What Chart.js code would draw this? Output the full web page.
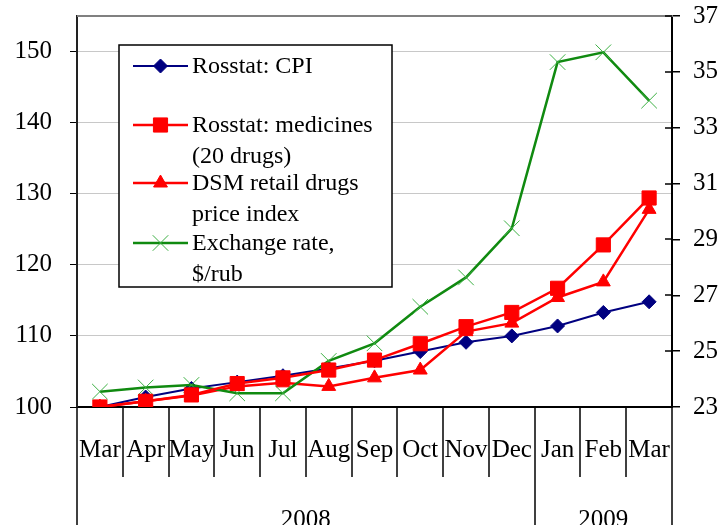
<!DOCTYPE html>
<html><head><meta charset="utf-8">
<script src="https://cdn.jsdelivr.net/npm/chart.js@4.4.1/dist/chart.umd.min.js"></script>
<style>html,body{margin:0;padding:0;background:#fff;}#wrap{width:721px;height:525px;position:relative;}</style>
</head><body><div id="wrap"><canvas id="c"></canvas></div>
<script>
const months = ['Mar','Apr','May','Jun','Jul','Aug','Sep','Oct','Nov','Dec','Jan','Feb','Mar'];
const years = ['2008','2009'];
const yearSpans = [10, 3];
const cpi = [100, 101.4, 102.6, 103.5, 104.4, 105.4, 106.5, 107.8, 109.1, 110.0, 111.4, 113.3, 114.8];
const medicines = [100, 100.8, 101.7, 103.3, 104.1, 105.2, 106.6, 108.9, 111.3, 113.3, 116.7, 122.8, 129.4];
const dsm = [100, 100.8, 101.6, 102.9, 103.4, 102.9, 104.1, 105.2, 110.6, 111.8, 115.4, 117.6, 127.8];
const exchange = [23.55, 23.70, 23.79, 23.49, 23.49, 24.65, 25.28, 26.59, 27.64, 29.4, 35.35, 35.7, 33.97];
const leftTicks = [100, 110, 120, 130, 140, 150];
const rightTicks = [23, 25, 27, 29, 31, 33, 35, 37];
const legendCpi = ['Rosstat: CPI'];
const legendMed = ['Rosstat: medicines', '(20 drugs)'];
const legendDsm = ['DSM retail drugs', 'price index'];
const legendFx = ['Exchange rate,', '$/rub'];

const FONT = "'Liberation Serif', 'Times New Roman', serif";

function noPad(s) { s.paddingTop = 0; s.paddingBottom = 0; s.paddingLeft = 0; s.paddingRight = 0; }

const decor = {
  id: 'decor',
  afterDraw(chart) {
    const ctx = chart.ctx, a = chart.chartArea, x = chart.scales.x, yR = chart.scales.yR;
    const n = months.length;
    const w = (a.right - a.left) / n;
    ctx.save();
    ctx.strokeStyle = '#808080'; ctx.lineWidth = 2;
    ctx.beginPath(); ctx.moveTo(a.left, a.top); ctx.lineTo(a.right + 1, a.top); ctx.stroke();
    const longIdx = [0]; let acc = 0; yearSpans.forEach(s => { acc += s; longIdx.push(acc); });
    ctx.strokeStyle = '#000'; ctx.lineWidth = 1.5;
    for (let i = 0; i <= n; i++) {
      const px = Math.round(i < n ? x.getPixelForValue(i) - w / 2 : x.getPixelForValue(n - 1) + w / 2);
      const yEnd = longIdx.includes(i) ? chart.height : a.bottom + 70;
      ctx.beginPath(); ctx.moveTo(px, a.bottom); ctx.lineTo(px, yEnd); ctx.stroke();
    }
    ctx.fillStyle = '#000'; ctx.font = '25px ' + FONT; ctx.textAlign = 'center'; ctx.textBaseline = 'alphabetic';
    let start = 0;
    years.forEach((yr, k) => {
      const x0 = x.getPixelForValue(start) - w / 2;
      const x1 = x.getPixelForValue(start + yearSpans[k] - 1) + w / 2;
      ctx.fillText(yr, (x0 + x1) / 2, a.bottom + 120);
      start += yearSpans[k];
    });
    ctx.strokeStyle = '#000'; ctx.lineWidth = 1.5;
    rightTicks.forEach(v => {
      const py = Math.round(yR.getPixelForValue(v));
      ctx.beginPath(); ctx.moveTo(a.right - 7, py); ctx.lineTo(a.right, py); ctx.stroke();
    });
    const bx = a.left + 42, by = a.top + 29, bw = 273, bh = 242;
    ctx.fillStyle = '#fff'; ctx.fillRect(bx, by, bw, bh);
    ctx.strokeStyle = '#000'; ctx.lineWidth = 1.5; ctx.strokeRect(bx, by, bw, bh);
    const ds = chart.data.datasets;
    const entries = [
      { d: ds[3], lines: legendCpi, y: by + 21 },
      { d: ds[0], lines: legendMed, y: by + 80 },
      { d: ds[2], lines: legendDsm, y: by + 138 },
      { d: ds[1], lines: legendFx, y: by + 198 }
    ];
    ctx.font = '24px ' + FONT; ctx.textAlign = 'left'; ctx.textBaseline = 'middle';
    entries.forEach(e => {
      const lx0 = bx + 14, lx1 = bx + 69, mx = (lx0 + lx1) / 2;
      ctx.strokeStyle = e.d.borderColor; ctx.lineWidth = e.d.borderWidth;
      ctx.beginPath(); ctx.moveTo(lx0, e.y); ctx.lineTo(lx1, e.y); ctx.stroke();
      ctx.save();
      ctx.fillStyle = e.d.pointBackgroundColor; ctx.strokeStyle = e.d.pointBorderColor; ctx.lineWidth = e.d.pointBorderWidth;
      Chart.helpers.drawPoint(ctx, { pointStyle: e.d.pointStyle, radius: e.d.pointRadius, rotation: 0, borderWidth: e.d.pointBorderWidth }, mx, e.y);
      ctx.restore();
      ctx.fillStyle = '#000';
      e.lines.forEach((t, i) => ctx.fillText(t, bx + 73, e.y + 1 + i * 31));
    });
    ctx.restore();
  }
};

new Chart(document.getElementById('c'), {
  type: 'line',
  data: {
    labels: months,
    datasets: [
      { label: legendMed.join(' '), data: medicines, yAxisID: 'y', order: 0,
        borderColor: '#ff0000', borderWidth: 2.5, pointStyle: 'rect', pointRadius: 10,
        pointBackgroundColor: '#ff0000', pointBorderColor: '#ff0000', pointBorderWidth: 1 },
      { label: legendFx.join(' '), data: exchange, yAxisID: 'yR', order: 1,
        borderColor: '#108a10', borderWidth: 2.5, pointStyle: 'crossRot', pointRadius: 11,
        pointBackgroundColor: '#3cb043', pointBorderColor: '#3cb043', pointBorderWidth: 1 },
      { label: legendDsm.join(' '), data: dsm, yAxisID: 'y', order: 2,
        borderColor: '#ff0000', borderWidth: 2.5, pointStyle: 'triangle', pointRadius: 8,
        pointBackgroundColor: '#ff0000', pointBorderColor: '#ff0000', pointBorderWidth: 1 },
      { label: legendCpi.join(' '), data: cpi, yAxisID: 'y', order: 3,
        borderColor: '#000080', borderWidth: 2, pointStyle: 'rectRot', pointRadius: 7,
        pointBackgroundColor: '#000080', pointBorderColor: '#000080', pointBorderWidth: 1 }
    ]
  },
  options: {
    responsive: true, maintainAspectRatio: false, animation: false, devicePixelRatio: 1,
    layout: { padding: { top: 16, left: 0, right: 0, bottom: 0 } },
    plugins: { legend: { display: false }, tooltip: { enabled: false } },
    elements: { line: { tension: 0 } },
    scales: {
      x: {
        offset: true,
        grid: { display: false },
        border: { display: true, color: '#000', width: 2 },
        ticks: { color: '#000', font: { family: FONT, size: 25 }, padding: 20, maxRotation: 0, autoSkip: false },
        afterFit(s) { s.height = 118; noPad(s); }
      },
      y: {
        position: 'left', min: 100, max: 155,
        afterBuildTicks(s) { s.ticks = leftTicks.map(v => ({ value: v })); },
        grid: { color: '#c8c8c8', lineWidth: 1, tickColor: '#000', tickLength: 7 },
        border: { display: true, color: '#222', width: 2 },
        ticks: { color: '#000', font: { family: FONT, size: 25 }, padding: 18 },
        afterFit(s) { s.width = 77; noPad(s); }
      },
      yR: {
        position: 'right', min: 23, max: 37,
        afterBuildTicks(s) { s.ticks = rightTicks.map(v => ({ value: v })); },
        grid: { drawOnChartArea: false, color: '#000', tickColor: '#000', tickLength: 8, lineWidth: 1.5 },
        border: { display: true, color: '#000', width: 2 },
        ticks: { color: '#000', font: { family: FONT, size: 25 }, padding: 13 },
        afterFit(s) { s.width = 49; noPad(s); }
      }
    }
  },
  plugins: [decor]
});
</script></body></html>
